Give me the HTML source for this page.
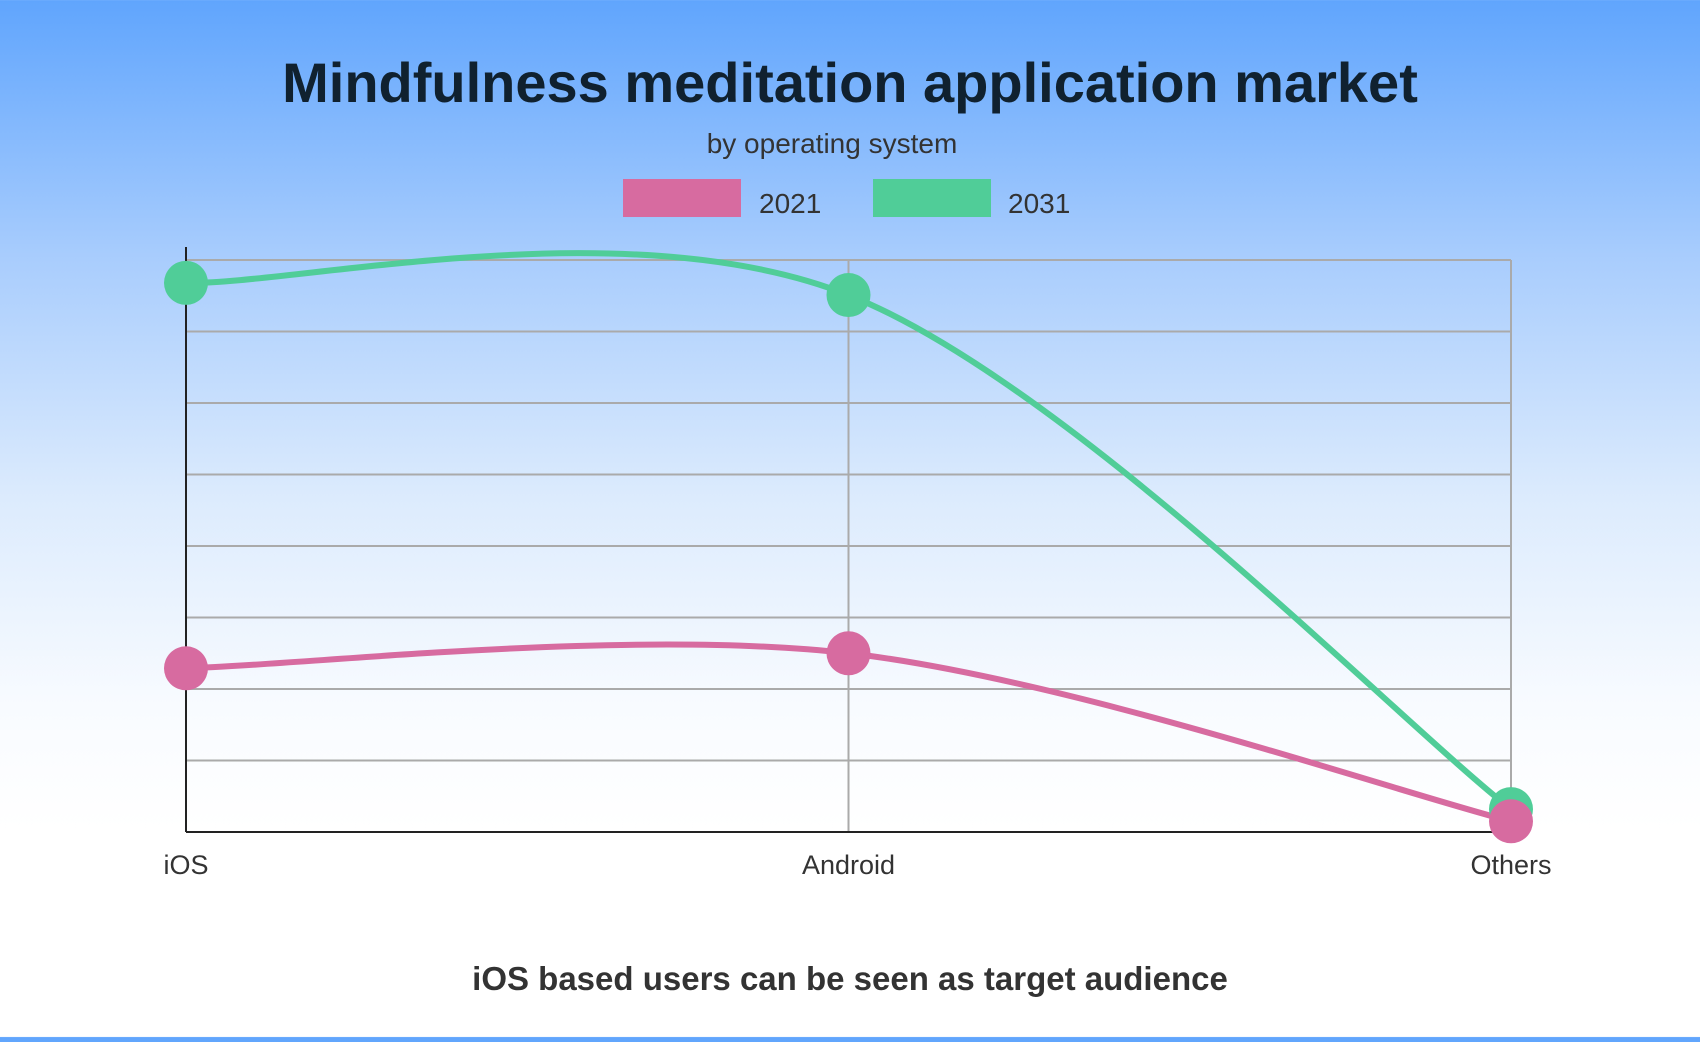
<!DOCTYPE html>
<html><head><meta charset="utf-8">
<style>
html,body{margin:0;padding:0}
body{width:1700px;height:1037px;overflow:hidden;background:linear-gradient(180deg,#60a5fd 0%,#a9cdfd 25%,#dcebfd 48%,#f8fbff 68%,#ffffff 80%,#ffffff 100%);font-family:"Liberation Sans",sans-serif}
</style></head>
<body>
<svg width="1700" height="1037">
<text x="850" y="102" text-anchor="middle" font-size="56" font-weight="bold" fill="#10212f">Mindfulness meditation application market</text>
<text x="832" y="153" text-anchor="middle" font-size="28" fill="#333">by operating system</text>
<g>
<rect x="623" y="179" width="118" height="38" fill="#d76ba0"/>
<text x="759" y="213" font-size="28" fill="#333">2021</text>
<rect x="873" y="179" width="118" height="38" fill="#50cd98"/>
<text x="1008" y="213" font-size="28" fill="#333">2031</text>
</g>
<g id="plot"></g>
<text x="850" y="990" text-anchor="middle" font-size="33" font-weight="bold" fill="#333">iOS based users can be seen as target audience</text>
</svg>
<script>
const categories=["iOS","Android","Others"];
const values2021=[2.29,2.5,0.15];
const values2031=[7.68,7.51,0.32];
const yMax=8;
const L=186,R=1511,T=260,B=832;
const NS="http://www.w3.org/2000/svg";
const g=document.getElementById('plot');
function xs(i){return L+i*(R-L)/(categories.length-1);}
function ys(v){return B-v/yMax*(B-T);}
function mk(t,a){const e=document.createElementNS(NS,t);for(const k in a)e.setAttribute(k,a[k]);g.appendChild(e);return e;}
for(let k=1;k<=yMax;k++){const l=mk('line',{x1:L,x2:R,y1:ys(k),y2:ys(k),stroke:'#aaa','stroke-width':2});

}
categories.forEach((c,i)=>{if(i>0){const l=mk('line',{x1:xs(i),x2:xs(i),y1:T,y2:B,stroke:'#aaa','stroke-width':2});

}
const t=mk('text',{x:xs(i),y:874,'text-anchor':'middle','font-size':27,fill:'#333'});t.textContent=c;

});
const ya=mk('line',{x1:L,x2:L,y1:247,y2:B,stroke:'#222','stroke-width':2});


const xa=mk('line',{x1:L,x2:R,y1:B,y2:B,stroke:'#222','stroke-width':2});


function path(vals){const p=vals.map((v,i)=>[xs(i),ys(v)]);let d='M'+p[0][0]+','+p[0][1];
for(let i=0;i<p.length-1;i++){const p0=p[Math.max(0,i-1)],p1=p[i],p2=p[i+1],p3=p[Math.min(p.length-1,i+2)];
const c1=[p1[0]+(p2[0]-p0[0])/6,p1[1]+(p2[1]-p0[1])/6],c2=[p2[0]-(p3[0]-p1[0])/6,p2[1]-(p3[1]-p1[1])/6];
d+=' C'+c1+' '+c2+' '+p2;}return d;}
[[values2031,'#50cd98','2031'],[values2021,'#d76ba0','2021']].forEach(([vals,col,name])=>{
const ln=mk('path',{d:path(vals),fill:'none',stroke:col,'stroke-width':6});

});
[[values2031,'#50cd98','2031'],[values2021,'#d76ba0','2021']].forEach(([vals,col,name])=>{
vals.forEach((v,i)=>{const c=mk('circle',{cx:xs(i),cy:ys(v),r:22,fill:col});

});});
</script>
</body></html>
